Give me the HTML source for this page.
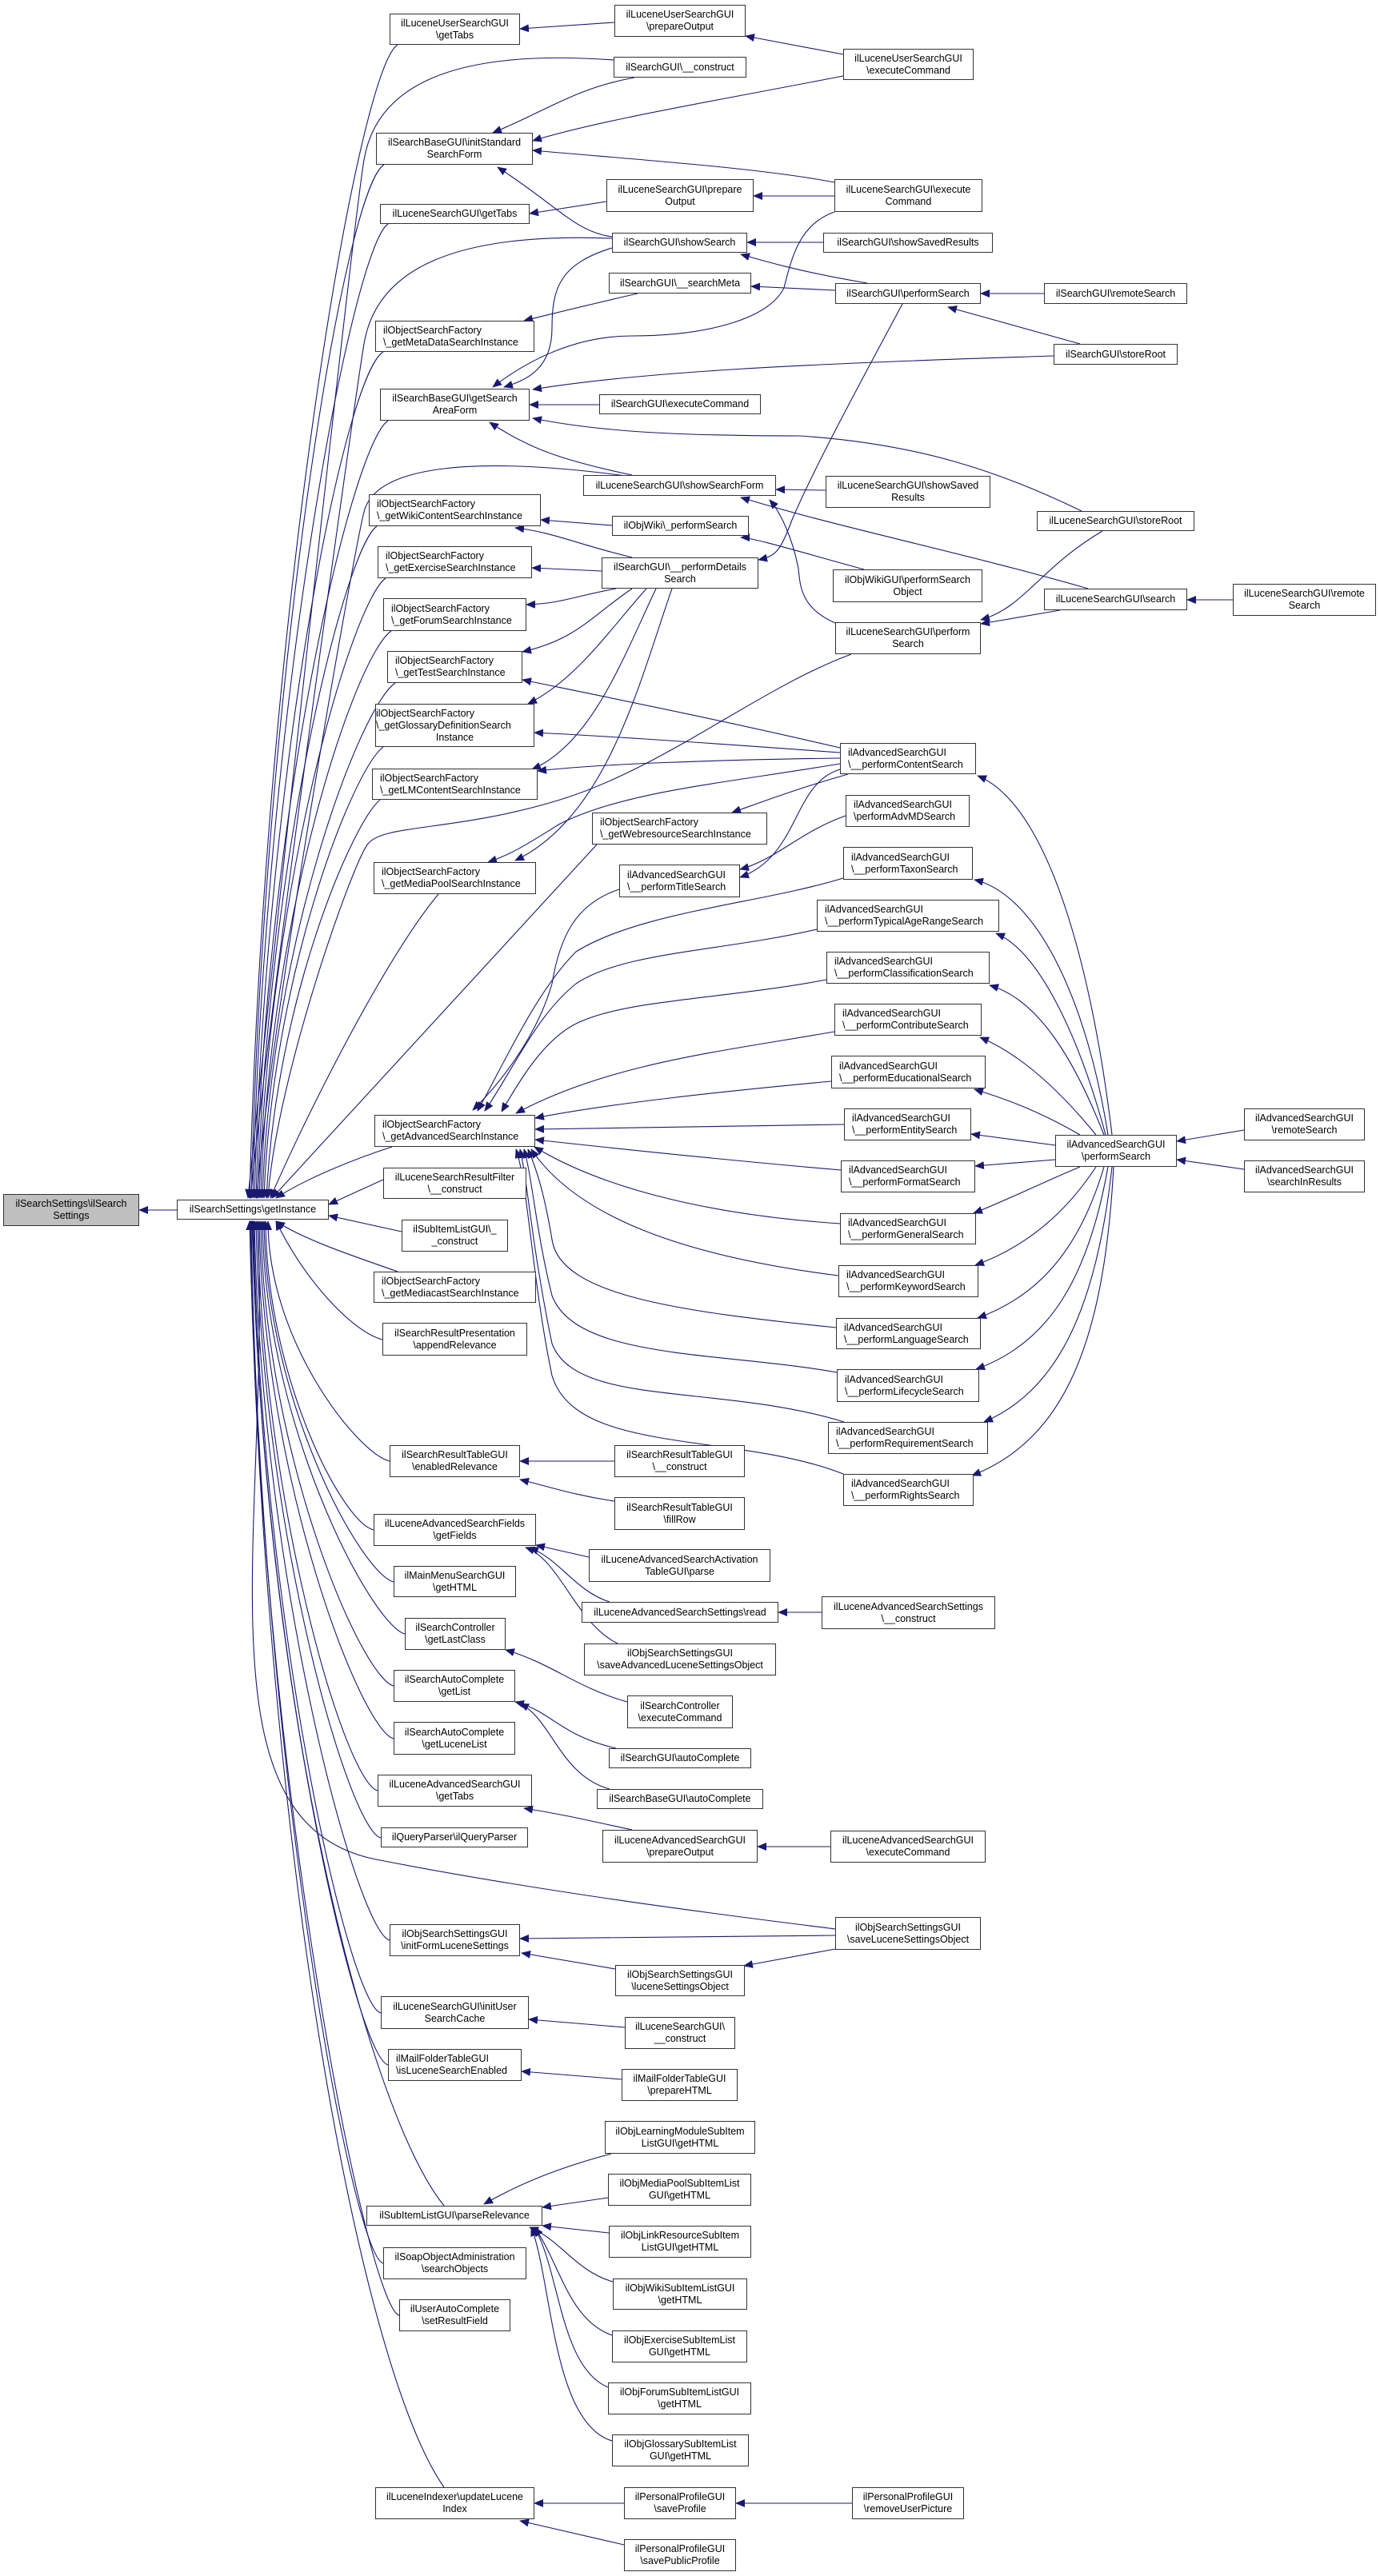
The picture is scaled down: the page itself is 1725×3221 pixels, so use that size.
<!DOCTYPE html>
<html><head><meta charset="utf-8">
<style>
html,body{margin:0;padding:0;background:#fff;}
#w{position:relative;width:1725px;height:3221px;overflow:hidden;font-family:"Liberation Sans",sans-serif;}
svg{position:absolute;left:0;top:0;}
.n{position:absolute;box-sizing:border-box;border:1.3px solid #333;background:#fff;font-size:12.5px;line-height:15px;color:#000;display:flex;flex-direction:column;justify-content:center;text-align:center;white-space:nowrap;overflow:hidden;}
.l{text-align:left;padding-left:9px;}
.g{background:#bfbfbf;}
</style></head><body><div id="w">
<svg width="1725" height="3221" viewBox="0 0 1725 3221">
<defs><marker id="a" markerUnits="userSpaceOnUse" markerWidth="12" markerHeight="10" refX="11" refY="5" orient="auto"><path d="M0,0 L12,5 L0,10 z" fill="#191970"/></marker></defs>
<g fill="none" stroke="#191970" stroke-width="1.1" marker-end="url(#a)">
<path d="M221,1513 L174,1513"/>
<!-- col2 above into GI -->
<path d="M497,56 C447,86 330,777 312,1498"/>
<path d="M480,206 C430,236 330,850 314,1498"/>
<path d="M485,280 C440,310 330,890 316,1498"/>
<path d="M479,440 C430,470 332,970 318,1498"/>
<path d="M485,526 C440,556 333,1010 320,1498"/>
<path d="M471,658 C430,688 334,1080 322,1498"/>
<path d="M482,723 C440,753 335,1110 324,1498"/>
<path d="M489,789 C445,819 336,1140 326,1498"/>
<path d="M494,854 C450,884 338,1180 328,1498"/>
<path d="M479,934 C440,964 340,1220 330,1498"/>
<path d="M475,1000 C440,1030 345,1250 333,1498"/>
<path d="M548,1118 C480,1200 380,1400 338,1498"/>
<path d="M490,1434 C440,1450 380,1475 345,1498"/>
<path d="M479,1475 L411,1506"/>
<path d="M502,1540 L411,1520"/>
<path d="M497,1590 C440,1570 380,1550 345,1527"/>
<!-- col3/col4 direct into GI -->
<path d="M767,75 C560,60 470,110 455,200 S330,1300 310,1498"/>
<path d="M765,298 C560,290 470,340 455,430 S332,1300 313,1498"/>
<path d="M790,596 C600,570 470,580 455,640 S335,1300 321,1498"/>
<path d="M1064,818 C950,860 830,960 700,1000 S480,1030 460,1055 S345,1350 335,1498"/>
<path d="M746,1056 L340,1498"/>
<path d="M1044,2412 C950,2400 700,2370 470,2325 S340,1900 322,1527"/>
<!-- col2 below into GI -->
<path d="M478,1675 C440,1665 380,1600 345,1527"/>
<path d="M487,1827 C447,1817 335,1677 335,1527"/>
<path d="M467,1913 C427,1903 333,1720 332,1527"/>
<path d="M492,1978 C452,1968 332,1752 330,1527"/>
<path d="M506,2043 C466,2033 331,1785 328,1527"/>
<path d="M492,2108 C452,2098 330,1818 326,1527"/>
<path d="M492,2174 C452,2164 329,1850 324,1527"/>
<path d="M472,2239 C432,2229 328,1883 322,1527"/>
<path d="M476,2298 C436,2288 327,1912 320,1527"/>
<path d="M487,2426 C447,2416 326,1977 318,1527"/>
<path d="M476,2517 C436,2507 325,2022 317,1527"/>
<path d="M485,2582 C445,2572 324,2055 316,1527"/>
<path d="M555,2758 C460,2640 330,2143 315,1527"/>
<path d="M479,2830 C439,2820 323,2178 314,1527"/>
<path d="M499,2895 C459,2885 322,2211 313,1527"/>
<path d="M555,3110 C450,2960 330,2318 312,1527"/>
<!-- top section -->
<path d="M768,28 L650,36"/>
<path d="M1054,68 L932,45"/>
<path d="M793,97 C720,110 680,140 616,166"/>
<path d="M1054,95 C900,125 750,150 666,176"/>
<path d="M1043,228 C950,210 800,200 666,188"/>
<path d="M765,296 C720,290 700,260 622,209"/>
<path d="M758,252 L662,267"/>
<path d="M1043,245 L942,245"/>
<path d="M797,367 C740,380 700,390 655,401"/>
<path d="M1044,363 L939,358"/>
<path d="M1084,354 C1000,340 950,325 926,318"/>
<path d="M1029,303 L934,303"/>
<path d="M765,310 C700,330 690,360 690,410 C690,460 660,475 630,484"/>
<path d="M1043,265 C1000,280 990,320 980,360 C960,400 880,420 790,420 C720,420 660,450 616,484"/>
<path d="M1317,445 C1000,455 800,465 666,487"/>
<path d="M749,506 L662,506"/>
<path d="M1352,639 C1250,590 1150,555 1000,545 C850,545 750,540 666,523"/>
<path d="M790,594 C700,575 660,560 612,528"/>
<path d="M1032,613 L970,612"/>
<path d="M1360,736 C1200,690 1050,660 926,622"/>
<path d="M1044,779 C1000,760 1000,730 998,711 C990,670 975,640 962,625"/>
<path d="M1325,763 L1226,780"/>
<path d="M1378,664 C1300,710 1280,760 1226,775"/>
<path d="M1541,750 L1484,750"/>
<path d="M1305,367 L1226,367"/>
<path d="M1350,430 L1185,384"/>
<path d="M1128,380 C1080,470 1020,580 990,650 C975,690 970,695 948,700"/>
<path d="M765,657 L676,650"/>
<path d="M790,697 C720,680 690,665 644,660"/>
<path d="M1080,712 C1000,690 940,672 926,672"/>
<path d="M752,714 L665,710"/>
<path d="M770,736 C720,745 700,755 658,756"/>
<path d="M790,736 C740,770 720,800 653,815"/>
<path d="M808,736 C760,790 720,850 660,880"/>
<path d="M820,736 C780,820 740,930 665,962"/>
<path d="M840,736 C800,850 760,1020 644,1076"/>
<path d="M1050,935 C900,900 750,870 653,850"/>
<path d="M1050,941 C900,930 750,920 668,916"/>
<path d="M1050,948 C900,950 750,955 672,964"/>
<path d="M1050,955 C900,980 780,990 700,1030 C660,1055 640,1068 610,1078"/>
<path d="M1060,968 C1000,985 960,1000 915,1016"/>
<path d="M1050,962 C990,980 1000,1070 925,1097"/>
<path d="M1057,1020 C1000,1040 970,1075 925,1087"/>
<!-- performSearch (adv) -->
<path d="M1390,1419 C1370,1250 1320,1010 1222,970"/>
<path d="M1385,1419 C1360,1260 1300,1120 1218,1100"/>
<path d="M1382,1419 C1350,1300 1300,1190 1245,1167"/>
<path d="M1380,1419 C1345,1330 1300,1250 1237,1232"/>
<path d="M1370,1419 C1330,1370 1280,1320 1225,1297"/>
<path d="M1350,1419 C1300,1390 1260,1375 1218,1362"/>
<path d="M1319,1432 L1214,1418"/>
<path d="M1319,1450 L1219,1458"/>
<path d="M1350,1459 C1300,1480 1260,1500 1217,1517"/>
<path d="M1370,1459 C1330,1520 1280,1560 1219,1582"/>
<path d="M1380,1459 C1350,1560 1300,1620 1222,1648"/>
<path d="M1385,1459 C1360,1600 1310,1680 1220,1712"/>
<path d="M1390,1459 C1370,1640 1320,1740 1230,1778"/>
<path d="M1392,1459 C1380,1680 1330,1800 1215,1845"/>
<path d="M1555,1413 L1471,1427"/>
<path d="M1555,1462 L1471,1450"/>
<!-- into getAdvancedSearchInstance -->
<path d="M774,1112 C720,1130 700,1170 690,1230 C670,1300 620,1360 591,1388"/>
<path d="M1054,1098 C950,1130 800,1140 720,1190 C670,1240 630,1330 597,1389"/>
<path d="M1021,1162 C900,1190 780,1190 720,1230 C670,1270 640,1340 606,1389"/>
<path d="M1033,1225 C900,1250 780,1250 720,1280 C680,1300 650,1350 627,1390"/>
<path d="M1043,1290 C900,1315 760,1330 645,1392"/>
<path d="M1039,1352 C900,1365 760,1380 669,1398"/>
<path d="M1055,1406 L669,1412"/>
<path d="M1051,1463 C900,1450 760,1435 669,1425"/>
<path d="M1050,1530 C900,1520 760,1490 668,1434"/>
<path d="M1048,1595 C850,1570 720,1520 664,1437"/>
<path d="M1045,1660 C850,1640 700,1620 690,1550 C680,1490 670,1460 660,1437"/>
<path d="M1046,1716 C900,1690 720,1700 690,1620 C670,1540 665,1470 655,1437"/>
<path d="M1055,1778 C900,1730 720,1760 690,1680 C665,1560 660,1480 650,1437"/>
<path d="M1054,1843 C920,1790 720,1820 690,1720 C665,1600 660,1480 645,1437"/>
<!-- lower -->
<path d="M768,1827 L650,1827"/>
<path d="M768,1877 C720,1870 690,1860 650,1850"/>
<path d="M736,1947 L670,1932"/>
<path d="M762,2003 C720,1990 700,1950 662,1935"/>
<path d="M772,2055 C720,2030 700,1950 657,1935"/>
<path d="M1027,2016 L973,2016"/>
<path d="M784,2128 C720,2110 690,2080 632,2063"/>
<path d="M770,2186 C700,2170 690,2140 644,2128"/>
<path d="M762,2237 C700,2220 690,2150 650,2130"/>
<path d="M790,2288 C730,2275 700,2268 655,2261"/>
<path d="M1038,2309 L947,2309"/>
<path d="M1044,2420 L650,2424"/>
<path d="M769,2462 L652,2442"/>
<path d="M1044,2437 L930,2458"/>
<path d="M781,2535 L661,2525"/>
<path d="M777,2600 L652,2590"/>
<path d="M764,2693 C700,2710 650,2730 605,2756"/>
<path d="M760,2748 L678,2760"/>
<path d="M761,2792 L678,2783"/>
<path d="M766,2853 C720,2840 700,2800 662,2785"/>
<path d="M765,2920 C710,2900 700,2830 668,2785"/>
<path d="M760,2985 C700,2960 700,2840 668,2785"/>
<path d="M765,3052 C690,3030 690,2850 664,2785"/>
<path d="M780,3130 L668,3130"/>
<path d="M780,3182 L650,3152"/>
<path d="M1065,3130 L920,3130"/>
</g></svg>

<div class="n g" style="left:4px;top:1493px;width:170px;height:40px">ilSearchSettings\ilSearch<br>Settings</div>
<div class="n" style="left:221px;top:1500px;width:190px;height:25px">ilSearchSettings\getInstance</div>

<div class="n" style="left:487px;top:17px;width:163px;height:39px">ilLuceneUserSearchGUI<br>\getTabs</div>
<div class="n" style="left:470px;top:166px;width:196px;height:40px">ilSearchBaseGUI\initStandard<br>SearchForm</div>
<div class="n" style="left:475px;top:255px;width:187px;height:25px">ilLuceneSearchGUI\getTabs</div>
<div class="n l" style="left:469px;top:401px;width:199px;height:39px">ilObjectSearchFactory<br>\_getMetaDataSearchInstance</div>
<div class="n" style="left:475px;top:486px;width:187px;height:40px">ilSearchBaseGUI\getSearch<br>AreaForm</div>
<div class="n l" style="left:461px;top:618px;width:215px;height:40px">ilObjectSearchFactory<br>\_getWikiContentSearchInstance</div>
<div class="n l" style="left:472px;top:683px;width:193px;height:40px">ilObjectSearchFactory<br>\_getExerciseSearchInstance</div>
<div class="n l" style="left:479px;top:748px;width:179px;height:41px">ilObjectSearchFactory<br>\_getForumSearchInstance</div>
<div class="n l" style="left:484px;top:814px;width:169px;height:40px">ilObjectSearchFactory<br>\_getTestSearchInstance</div>
<div class="n" style="left:469px;top:880px;width:199px;height:54px"><span style="text-align:left;padding-left:0">ilObjectSearchFactory<br>\_getGlossaryDefinitionSearch</span>Instance</div>
<div class="n l" style="left:465px;top:961px;width:207px;height:39px">ilObjectSearchFactory<br>\_getLMContentSearchInstance</div>
<div class="n l" style="left:467px;top:1078px;width:203px;height:40px">ilObjectSearchFactory<br>\_getMediaPoolSearchInstance</div>
<div class="n l" style="left:468px;top:1394px;width:201px;height:40px">ilObjectSearchFactory<br>\_getAdvancedSearchInstance</div>
<div class="n" style="left:479px;top:1460px;width:179px;height:39px">ilLuceneSearchResultFilter<br>\__construct</div>
<div class="n" style="left:502px;top:1525px;width:133px;height:40px">ilSubItemListGUI\_<br>_construct</div>
<div class="n l" style="left:467px;top:1590px;width:203px;height:39px">ilObjectSearchFactory<br>\_getMediacastSearchInstance</div>
<div class="n" style="left:478px;top:1654px;width:181px;height:41px">ilSearchResultPresentation<br>\appendRelevance</div>
<div class="n" style="left:487px;top:1807px;width:163px;height:40px">ilSearchResultTableGUI<br>\enabledRelevance</div>
<div class="n" style="left:467px;top:1893px;width:203px;height:40px">ilLuceneAdvancedSearchFields<br>\getFields</div>
<div class="n" style="left:492px;top:1958px;width:153px;height:39px">ilMainMenuSearchGUI<br>\getHTML</div>
<div class="n" style="left:506px;top:2023px;width:126px;height:40px">ilSearchController<br>\getLastClass</div>
<div class="n" style="left:492px;top:2088px;width:152px;height:40px">ilSearchAutoComplete<br>\getList</div>
<div class="n" style="left:492px;top:2153px;width:152px;height:41px">ilSearchAutoComplete<br>\getLuceneList</div>
<div class="n" style="left:472px;top:2219px;width:193px;height:40px">ilLuceneAdvancedSearchGUI<br>\getTabs</div>
<div class="n" style="left:476px;top:2285px;width:184px;height:25px">ilQueryParser\ilQueryParser</div>
<div class="n" style="left:487px;top:2406px;width:163px;height:40px">ilObjSearchSettingsGUI<br>\initFormLuceneSettings</div>
<div class="n" style="left:476px;top:2496px;width:185px;height:41px">ilLuceneSearchGUI\initUser<br>SearchCache</div>
<div class="n l" style="left:485px;top:2562px;width:167px;height:40px">ilMailFolderTableGUI<br>\isLuceneSearchEnabled</div>
<div class="n" style="left:458px;top:2758px;width:220px;height:25px">ilSubItemListGUI\parseRelevance</div>
<div class="n" style="left:479px;top:2810px;width:179px;height:40px">ilSoapObjectAdministration<br>\searchObjects</div>
<div class="n" style="left:499px;top:2875px;width:139px;height:40px">ilUserAutoComplete<br>\setResultField</div>
<div class="n" style="left:469px;top:3110px;width:199px;height:40px">ilLuceneIndexer\updateLucene<br>Index</div>

<div class="n" style="left:768px;top:6px;width:164px;height:40px">ilLuceneUserSearchGUI<br>\prepareOutput</div>
<div class="n" style="left:767px;top:71px;width:166px;height:26px">ilSearchGUI\__construct</div>
<div class="n" style="left:758px;top:224px;width:184px;height:41px">ilLuceneSearchGUI\prepare<br>Output</div>
<div class="n" style="left:765px;top:291px;width:169px;height:25px">ilSearchGUI\showSearch</div>
<div class="n" style="left:761px;top:341px;width:178px;height:26px">ilSearchGUI\__searchMeta</div>
<div class="n" style="left:749px;top:493px;width:202px;height:25px">ilSearchGUI\executeCommand</div>
<div class="n" style="left:729px;top:594px;width:241px;height:26px">ilLuceneSearchGUI\showSearchForm</div>
<div class="n" style="left:765px;top:645px;width:171px;height:25px">ilObjWiki\_performSearch</div>
<div class="n" style="left:752px;top:697px;width:196px;height:39px">ilSearchGUI\__performDetails<br>Search</div>
<div class="n l" style="left:740px;top:1016px;width:219px;height:40px">ilObjectSearchFactory<br>\_getWebresourceSearchInstance</div>
<div class="n l" style="left:774px;top:1081px;width:151px;height:41px">ilAdvancedSearchGUI<br>\__performTitleSearch</div>
<div class="n" style="left:768px;top:1807px;width:163px;height:40px">ilSearchResultTableGUI<br>\__construct</div>
<div class="n" style="left:768px;top:1872px;width:163px;height:41px">ilSearchResultTableGUI<br>\fillRow</div>
<div class="n" style="left:736px;top:1937px;width:227px;height:41px">ilLuceneAdvancedSearchActivation<br>TableGUI\parse</div>
<div class="n" style="left:727px;top:2003px;width:246px;height:26px">ilLuceneAdvancedSearchSettings\read</div>
<div class="n" style="left:730px;top:2055px;width:240px;height:40px">ilObjSearchSettingsGUI<br>\saveAdvancedLuceneSettingsObject</div>
<div class="n" style="left:784px;top:2120px;width:132px;height:41px">ilSearchController<br>\executeCommand</div>
<div class="n" style="left:761px;top:2186px;width:178px;height:25px">ilSearchGUI\autoComplete</div>
<div class="n" style="left:746px;top:2237px;width:208px;height:25px">ilSearchBaseGUI\autoComplete</div>
<div class="n" style="left:753px;top:2288px;width:194px;height:41px">ilLuceneAdvancedSearchGUI<br>\prepareOutput</div>
<div class="n" style="left:769px;top:2457px;width:162px;height:39px">ilObjSearchSettingsGUI<br>\luceneSettingsObject</div>
<div class="n" style="left:781px;top:2522px;width:138px;height:40px">ilLuceneSearchGUI\<br>__construct</div>
<div class="n" style="left:777px;top:2587px;width:145px;height:40px">ilMailFolderTableGUI<br>\prepareHTML</div>
<div class="n" style="left:756px;top:2652px;width:188px;height:41px">ilObjLearningModuleSubItem<br>ListGUI\getHTML</div>
<div class="n" style="left:760px;top:2718px;width:179px;height:40px">ilObjMediaPoolSubItemList<br>GUI\getHTML</div>
<div class="n" style="left:761px;top:2783px;width:178px;height:40px">ilObjLinkResourceSubItem<br>ListGUI\getHTML</div>
<div class="n" style="left:766px;top:2849px;width:168px;height:39px">ilObjWikiSubItemListGUI<br>\getHTML</div>
<div class="n" style="left:765px;top:2914px;width:169px;height:40px">ilObjExerciseSubItemList<br>GUI\getHTML</div>
<div class="n" style="left:760px;top:2979px;width:179px;height:40px">ilObjForumSubItemListGUI<br>\getHTML</div>
<div class="n" style="left:765px;top:3044px;width:171px;height:40px">ilObjGlossarySubItemList<br>GUI\getHTML</div>
<div class="n" style="left:780px;top:3110px;width:140px;height:40px">ilPersonalProfileGUI<br>\saveProfile</div>
<div class="n" style="left:780px;top:3175px;width:140px;height:40px">ilPersonalProfileGUI<br>\savePublicProfile</div>

<div class="n" style="left:1054px;top:61px;width:163px;height:39px">ilLuceneUserSearchGUI<br>\executeCommand</div>
<div class="n" style="left:1043px;top:224px;width:185px;height:41px">ilLuceneSearchGUI\execute<br>Command</div>
<div class="n" style="left:1029px;top:291px;width:212px;height:25px">ilSearchGUI\showSavedResults</div>
<div class="n" style="left:1044px;top:354px;width:182px;height:26px">ilSearchGUI\performSearch</div>
<div class="n" style="left:1032px;top:595px;width:206px;height:40px">ilLuceneSearchGUI\showSaved<br>Results</div>
<div class="n" style="left:1041px;top:712px;width:187px;height:41px">ilObjWikiGUI\performSearch<br>Object</div>
<div class="n" style="left:1044px;top:778px;width:182px;height:40px">ilLuceneSearchGUI\perform<br>Search</div>
<div class="n l" style="left:1050px;top:929px;width:170px;height:39px">ilAdvancedSearchGUI<br>\__performContentSearch</div>
<div class="n l" style="left:1057px;top:994px;width:155px;height:40px">ilAdvancedSearchGUI<br>\performAdvMDSearch</div>
<div class="n l" style="left:1054px;top:1059px;width:162px;height:41px">ilAdvancedSearchGUI<br>\__performTaxonSearch</div>
<div class="n l" style="left:1021px;top:1125px;width:228px;height:40px">ilAdvancedSearchGUI<br>\__performTypicalAgeRangeSearch</div>
<div class="n l" style="left:1033px;top:1190px;width:204px;height:40px">ilAdvancedSearchGUI<br>\__performClassificationSearch</div>
<div class="n l" style="left:1043px;top:1255px;width:184px;height:40px">ilAdvancedSearchGUI<br>\__performContributeSearch</div>
<div class="n l" style="left:1039px;top:1320px;width:193px;height:41px">ilAdvancedSearchGUI<br>\__performEducationalSearch</div>
<div class="n l" style="left:1055px;top:1386px;width:159px;height:40px">ilAdvancedSearchGUI<br>\__performEntitySearch</div>
<div class="n l" style="left:1051px;top:1451px;width:168px;height:40px">ilAdvancedSearchGUI<br>\__performFormatSearch</div>
<div class="n l" style="left:1050px;top:1517px;width:170px;height:39px">ilAdvancedSearchGUI<br>\__performGeneralSearch</div>
<div class="n l" style="left:1048px;top:1582px;width:175px;height:40px">ilAdvancedSearchGUI<br>\__performKeywordSearch</div>
<div class="n l" style="left:1045px;top:1648px;width:181px;height:39px">ilAdvancedSearchGUI<br>\__performLanguageSearch</div>
<div class="n l" style="left:1046px;top:1712px;width:178px;height:41px">ilAdvancedSearchGUI<br>\__performLifecycleSearch</div>
<div class="n l" style="left:1035px;top:1778px;width:200px;height:40px">ilAdvancedSearchGUI<br>\__performRequirementSearch</div>
<div class="n l" style="left:1054px;top:1843px;width:163px;height:40px">ilAdvancedSearchGUI<br>\__performRightsSearch</div>
<div class="n" style="left:1027px;top:1996px;width:217px;height:41px">ilLuceneAdvancedSearchSettings<br>\__construct</div>
<div class="n" style="left:1038px;top:2289px;width:194px;height:40px">ilLuceneAdvancedSearchGUI<br>\executeCommand</div>
<div class="n" style="left:1044px;top:2397px;width:182px;height:41px">ilObjSearchSettingsGUI<br>\saveLuceneSettingsObject</div>
<div class="n" style="left:1065px;top:3110px;width:140px;height:40px">ilPersonalProfileGUI<br>\removeUserPicture</div>

<div class="n" style="left:1305px;top:354px;width:179px;height:26px">ilSearchGUI\remoteSearch</div>
<div class="n" style="left:1317px;top:430px;width:155px;height:26px">ilSearchGUI\storeRoot</div>
<div class="n" style="left:1296px;top:639px;width:197px;height:25px">ilLuceneSearchGUI\storeRoot</div>
<div class="n" style="left:1305px;top:736px;width:179px;height:27px">ilLuceneSearchGUI\search</div>
<div class="n" style="left:1319px;top:1419px;width:152px;height:40px">ilAdvancedSearchGUI<br>\performSearch</div>

<div class="n" style="left:1541px;top:730px;width:179px;height:40px">ilLuceneSearchGUI\remote<br>Search</div>
<div class="n" style="left:1555px;top:1386px;width:151px;height:40px">ilAdvancedSearchGUI<br>\remoteSearch</div>
<div class="n" style="left:1555px;top:1451px;width:151px;height:40px">ilAdvancedSearchGUI<br>\searchInResults</div>
</div></body></html>
